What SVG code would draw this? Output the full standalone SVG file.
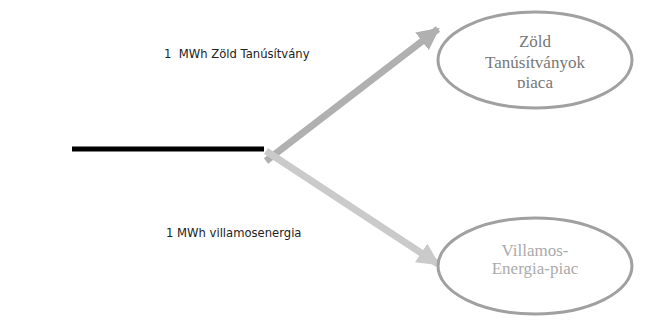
<svg xmlns="http://www.w3.org/2000/svg" width="660" height="327" viewBox="0 0 660 327">
<style>
.lbl{font-family:"DejaVu Sans",sans-serif;font-size:11.6px;fill:#222;white-space:pre}
.nt{font-family:"Liberation Serif",serif;font-size:17px;text-anchor:middle}
.el{fill:none;stroke:#a0a0a0;stroke-width:3}
</style>
<defs>
<marker id="ah1" viewBox="0 0 10 10" refX="9" refY="5" markerWidth="3.2" markerHeight="3.2" orient="auto" markerUnits="strokeWidth"><path d="M0,0 L10,5 L0,10 z" fill="#b0b0b0"/></marker>
<marker id="ah2" viewBox="0 0 10 10" refX="9" refY="5" markerWidth="3.2" markerHeight="3.2" orient="auto" markerUnits="strokeWidth"><path d="M0,0 L10,5 L0,10 z" fill="#cacaca"/></marker>
<clipPath id="clipZ"><rect x="430" y="0" width="220" height="88"/></clipPath>
</defs>
<rect width="660" height="327" fill="#fff"/>
<g id="connectors">
<line x1="72" y1="149" x2="264" y2="149" stroke="#000" stroke-width="5"/>
<line x1="266" y1="161" x2="438" y2="29" stroke="#b0b0b0" stroke-width="7" marker-end="url(#ah1)"/>
<line x1="266" y1="151" x2="438" y2="264" stroke="#cacaca" stroke-width="7" marker-end="url(#ah2)"/>
</g>
<g id="label1"><text class="lbl" x="164" y="58" xml:space="preserve">1  MWh Zöld Tanúsítvány</text></g>
<g id="label2"><text class="lbl" x="166" y="237">1 MWh villamosenergia</text></g>
<g id="node-zold">
<ellipse class="el" cx="535" cy="60" rx="97" ry="48"/>
<g clip-path="url(#clipZ)">
<text class="nt" fill="#777" x="535" y="47">Zöld</text>
<text class="nt" fill="#777" x="535" y="68">Tanúsítványok</text>
<text class="nt" fill="#777" x="535" y="88">piaca</text>
</g>
</g>
<g id="node-villamos">
<ellipse class="el" cx="535" cy="266" rx="97" ry="48"/>
<text class="nt" fill="#aaa" x="535" y="256">Villamos-</text>
<text class="nt" fill="#aaa" x="535" y="274">Energia-piac</text>
</g>
</svg>
